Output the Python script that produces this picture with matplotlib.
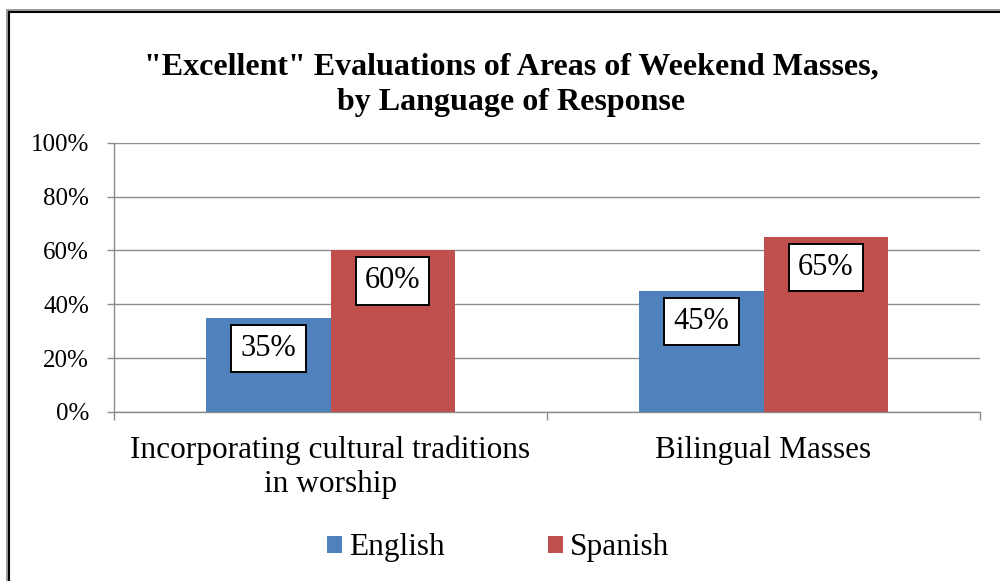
import matplotlib
matplotlib.use("Agg")
import matplotlib.pyplot as plt
from matplotlib.patches import Patch
from matplotlib.lines import Line2D
import numpy as np

categories = ["Incorporating cultural traditions\nin worship", "Bilingual Masses"]
series_names = ["English", "Spanish"]
english = [35, 45]
spanish = [60, 65]
yticks = [0, 20, 40, 60, 80, 100]
ytick_labels = ["0%", "20%", "40%", "60%", "80%", "100%"]
title = "\"Excellent\" Evaluations of Areas of Weekend Masses,\nby Language of Response"

colors = ["#4F81BD", "#C0504D"]
grid_color = "#8C8C8C"
plt.rcParams['font.family'] = ['Liberation Serif', 'DejaVu Serif']

W, H = 1000, 581
fig = plt.figure(figsize=(W / 100, H / 100), dpi=100)
ax = fig.add_axes([114 / W, 1 - 412 / H, (980 - 114) / W, (412 - 142.7) / H])

x = np.arange(len(categories))
bw = 0.2865
b1 = ax.bar(x - bw / 2, english, bw, color=colors[0], zorder=3, label=series_names[0])
b2 = ax.bar(x + bw / 2, spanish, bw, color=colors[1], zorder=3, label=series_names[1])

for bars, vals in ((b1, english), (b2, spanish)):
    for rect, v in zip(bars, vals):
        ax.annotate(f"{v}%", (rect.get_x() + rect.get_width() / 2, v),
                    xytext=(0, -22), textcoords="offset points",
                    ha="center", va="center", fontsize=22, zorder=5,
                    bbox=dict(boxstyle="square,pad=0.3", fc="white", ec="black", lw=1.4))

ax.set_xlim(-0.5, len(categories) - 0.5)
ax.set_ylim(0, 100)
ax.set_yticks(yticks)
ax.set_yticklabels(ytick_labels, fontsize=18)
ax.yaxis.grid(True, color=grid_color, lw=1.0, zorder=0)
ax.tick_params(axis="y", length=5, width=1.0, color=grid_color, pad=13)

ax.set_xticks(x)
ax.set_xticklabels(categories, fontsize=22.5, linespacing=1.2)
ax.set_xticks(np.arange(-0.5, len(categories), 1.0), minor=True)
ax.tick_params(axis="x", which="major", length=0, pad=17)
ax.tick_params(axis="x", which="minor", length=5.5, width=1.0, color=grid_color)

for s in ("top", "right"):
    ax.spines[s].set_visible(False)
for s in ("left", "bottom"):
    ax.spines[s].set_color(grid_color)
    ax.spines[s].set_linewidth(1.0)

fig.text(511 / W, 1 - 85 / H, title, ha="center", va="center",
         fontsize=23, fontweight="bold", linespacing=1.3)

handles = [Patch(facecolor=c, edgecolor="none") for c in colors]
fig.legend(handles, series_names, loc="center", bbox_to_anchor=(498 / W, 1 - 548 / H),
           ncol=2, frameon=False, fontsize=22.5, handlelength=0.5, handleheight=0.5,
           handletextpad=0.22, columnspacing=3.3, borderpad=0, borderaxespad=0)

# outer double border (cropped on right/bottom)
for (xo, yo, col, lw) in ((6.5, 9.5, "#9A9A9A", 1.4), (9.0, 12.0, "black", 1.5)):
    fig.add_artist(Line2D([xo / W, xo / W], [0, 1 - yo / H], color=col, lw=lw,
                          transform=fig.transFigure))
    fig.add_artist(Line2D([xo / W, 1], [1 - yo / H, 1 - yo / H], color=col, lw=lw,
                          transform=fig.transFigure))

fig.savefig("out.png", dpi=100, facecolor="white")
